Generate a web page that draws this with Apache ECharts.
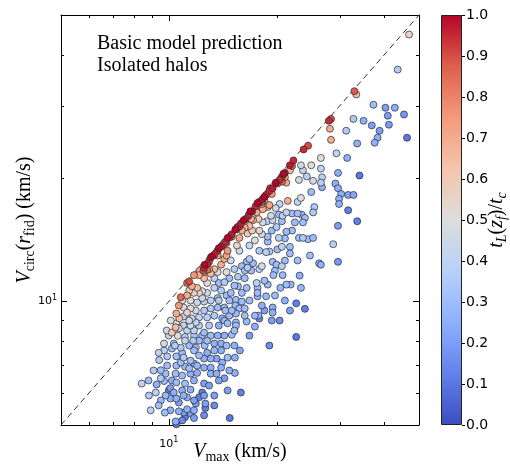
<!DOCTYPE html>
<html><head><meta charset="utf-8">
<script src="https://cdn.jsdelivr.net/npm/echarts@6/dist/echarts.min.js"></script>
<style>html,body{margin:0;padding:0;background:#fff}#c{width:510px;height:464px}</style>
</head><body><div id="c"></div>
<script>
// Each halo: [Vmax (km/s), Vcirc(r_fid) (km/s), tL(zf)/tc]
const upperHalos = [
[46.9,44.8,0.55],[43.6,36.8,0.35],[33.0,32.6,0.88],[33.4,32.0,0.65],[37.3,30.2,0.3],[40.3,29.7,0.2],[42.8,29.7,0.25],[40.9,28.4,0.2],[45.4,28.6,0.18],[32.8,27.9,0.35],[35.0,27.6,0.25],[36.9,26.9,0.2],[41.2,27.0,0.2],[28.0,27.6,0.95],[28.4,27.9,0.9],[28.2,26.4,0.7],[31.3,26.1,0.35],[38.8,26.1,0.2],[38.3,25.1,0.25],[46.3,25.1,0.1],[28.4,24.8,0.7],[33.6,24.3,0.25],[37.6,24.4,0.25],[23.8,23.5,0.95],[24.5,24.0,0.9]
];
const midHalos = [
[22.3,22.1,0.95],[21.8,21.5,0.97],[22.1,21.4,0.85],[26.6,22.4,0.5],[29.4,23.0,0.4],[31.5,22.4,0.25],[23.4,21.5,0.45],[25.0,21.5,0.5],[23.7,20.9,0.4],[26.6,21.1,0.4],[29.7,20.6,0.25],[34.1,20.3,0.1],[24.3,20.2,0.38],[26.8,20.1,0.38],[23.1,19.8,0.45],[25.3,19.7,0.45],[26.6,19.5,0.38],[29.2,19.4,0.25],[26.8,19.0,0.25],[29.7,18.9,0.25],[30.3,18.3,0.25],[31.7,18.2,0.22],[32.8,18.2,0.22],[25.0,18.5,0.3],[23.4,17.9,0.5],[29.9,17.8,0.25],[29.9,17.3,0.25],[22.9,17.5,0.4],[31.7,16.7,0.12],[33.6,15.7,0.12],[25.5,17.0,0.35],[25.3,16.5,0.35],[22.1,16.4,0.3],[22.9,16.4,0.3],[23.5,16.3,0.28],[24.0,16.0,0.3],[22.5,15.6,0.3],[23.7,15.6,0.3],[29.7,15.3,0.2],[22.1,14.9,0.3],[23.1,14.3,0.3],[23.7,14.3,0.35],[24.5,14.2,0.3],[25.3,14.3,0.3],
[28.8,13.8,0.38],[21.8,13.6,0.3],[21.8,13.1,0.3],[22.9,12.6,0.3],[26.3,12.4,0.25],[26.6,12.3,0.25],[29.7,12.5,0.18],[21.9,11.0,0.28],[23.4,10.8,0.28],[22.7,9.9,0.12],[24.0,9.6,0.12],
[22.7,8.2,0.1],[15.8,7.6,0.22],[15.3,7.3,0.25],[15.3,6.7,0.25],[15.9,6.0,0.12],[14.8,5.2,0.1],
[23.2,11.57,0.25],[24.8,12.95,0.3],[21.1,10.06,0.25],[18.5,9.51,0.2],[20.4,8.99,0.15],[16.8,8.26,0.2],[19.1,7.81,0.15]
];
const coreHalos = [
[15.5,13.7,0.55],[18.9,14.0,0.3],[20.7,13.6,0.38],[18.7,13.2,0.38],[19.1,13.25,0.35],[20.1,13.4,0.3],[19.5,12.5,0.3],[20.0,12.3,0.3],[20.7,12.2,0.38],[16.5,12.5,0.3],[16.8,12.7,0.35],[17.2,12.4,0.3],[18.2,12.2,0.45],[16.6,12.1,0.35],[16.0,12.2,0.3],[16.3,11.9,0.3],[17.0,11.9,0.3],[17.9,12.0,0.38],[19.8,11.9,0.3],[19.6,11.6,0.3],[20.8,11.6,0.28],[15.6,11.5,0.35],[16.3,11.4,0.3],[17.6,11.1,0.38],[18.9,11.0,0.28],[21.3,11.0,0.3],[15.6,10.9,0.3],[16.5,10.8,0.3],[17.7,10.8,0.3],[20.5,10.8,0.28],[17.7,10.5,0.3],[16.0,10.5,0.3],[17.7,10.3,0.28],[18.7,10.3,0.28],[19.8,10.35,0.3],[15.4,10.1,0.3],[16.0,10.0,0.3],[15.35,9.78,0.3],[15.75,9.62,0.3],[16.3,9.62,0.3],[19.5,9.67,0.25],[19.5,9.4,0.25],[15.4,9.35,0.3],[16.3,9.24,0.3],[17.8,9.24,0.25],[17.9,9.09,0.15],[15.4,8.89,0.3],[16.5,8.94,0.28],[17.4,8.69,0.25],[15.4,8.74,0.3],
[15.25,12.0,0.35],[14.9,12.6,0.45],[15.75,13.3,0.45],[16.8,13.7,0.4],[17.9,13.3,0.35],[17.4,14.1,0.5]
];
const bandHalos = [
[21.1,20.6,0.97],[20.7,20.1,0.95],[20.4,19.8,0.95],[20.1,19.4,0.9],[20.7,19.6,0.85],[19.5,18.9,0.97],[19.1,18.6,0.95],[18.7,18.2,0.95],[18.3,17.8,0.97],[17.9,17.5,0.95],[17.5,17.1,0.95],[17.1,16.6,0.97],[16.7,16.2,0.95],[16.4,15.9,0.95],[15.9,15.5,0.97],[15.55,15.2,0.95],[15.0,14.6,0.97],[14.8,14.35,0.95],[14.4,14.0,0.95],[14.0,13.6,0.97],[13.7,13.3,0.95],[13.4,13.0,0.95],[13.1,12.8,0.97],[12.96,12.5,0.9],[12.8,12.35,0.95],[12.55,12.1,0.95],[12.5,11.9,0.9],[12.8,11.95,0.85],[11.4,11.2,0.9],[11.25,11.1,0.85],
[20.9,20.5,1.0],[19.9,19.5,1.0],[19.2,18.9,0.92],[18.5,18.0,1.0],[17.7,17.4,1.0],[16.9,16.6,1.0],[16.2,15.8,1.0],[15.35,15.0,1.0],[14.6,14.3,1.0],[13.8,13.5,1.0],[13.2,12.9,1.0],[12.6,12.3,1.0],[14.2,13.75,0.9],[15.75,15.25,0.9],[18.2,17.5,0.88]
];
const salmonHalos = [
[19.4,18.3,0.75],[18.5,17.6,0.7],[18.9,17.0,0.7],[19.1,17.2,0.72],[18.2,17.3,0.75],[17.7,17.0,0.65],[18.3,16.8,0.7],[17.6,16.5,0.7],[17.0,15.9,0.7],[17.2,15.8,0.65],[17.8,15.9,0.6],[16.8,15.3,0.65],[16.3,15.15,0.7],[16.0,14.9,0.7],[15.45,15.0,0.75],[16.6,14.65,0.6],[17.1,14.9,0.6],[17.9,14.9,0.55],[15.0,14.4,0.7],[15.75,14.3,0.7],[14.5,13.9,0.8],[21.5,17.6,0.7],[21.3,19.5,0.7],[21.1,20.1,0.72],[21.8,20.9,0.65],
[12.2,11.9,0.7],[12.55,11.8,0.7],[12.96,12.0,0.7],[13.4,12.0,0.65],[14.0,12.3,0.7],[14.3,12.7,0.7],[13.7,12.95,0.75],[14.6,13.3,0.75],[14.5,12.95,0.72],[11.76,11.6,0.75],[12.15,11.6,0.7],[12.55,11.4,0.65],[13.1,11.7,0.65],[11.6,10.9,0.7],[12.0,10.8,0.65],[11.25,10.35,0.7],[10.8,10.25,0.85],[10.67,9.78,0.75],[10.5,9.35,0.7],[10.7,9.1,0.65],[10.45,8.65,0.65],[10.2,8.4,0.6],[10.6,8.25,0.5],
[10.9,10.06,0.55],[11.4,10.64,0.6],[12.15,10.5,0.55]
];
const grayHalos = [
[20.4,17.3,0.4],[19.9,16.9,0.45],[19.3,16.2,0.45],[18.8,15.7,0.4],[18.3,15.6,0.45],[19.5,15.8,0.4],[20.8,16.2,0.38],[20.3,16.3,0.3],[21.3,16.5,0.4],[20.7,15.7,0.3],[20.0,15.2,0.35],[19.4,14.9,0.3],[21.3,14.8,0.3],[18.9,14.4,0.3],[20.3,14.3,0.38],[21.1,14.25,0.3],[18.2,14.6,0.45],
[12.4,11.8,0.5],[13.7,11.8,0.5],[14.5,11.8,0.5],[12.8,11.1,0.5],[13.4,10.8,0.4],[13.8,11.1,0.3],[14.3,11.15,0.35],[14.76,11.4,0.3],[12.4,10.6,0.5],[12.8,10.5,0.45],[11.76,10.5,0.55],[11.5,10.06,0.5],[12.0,9.95,0.45],[12.4,10.2,0.45],[13.1,10.06,0.38],[13.7,10.2,0.3],[14.5,10.35,0.3],[14.9,10.5,0.3],[11.0,9.67,0.5],[11.5,9.62,0.5],[11.25,9.4,0.55],[11.9,9.51,0.45],[12.55,9.51,0.35],[13.1,9.62,0.35],[13.7,9.67,0.3],[14.3,9.67,0.3],[11.0,9.2,0.4],[11.6,9.1,0.45],[12.15,9.15,0.4],[12.8,9.15,0.38],[13.4,9.24,0.35],[14.1,9.1,0.25],[14.76,9.24,0.3],[10.5,8.85,0.45],[11.0,8.74,0.4],[11.5,8.74,0.45],[12.15,8.74,0.38],[12.96,8.74,0.35],[13.8,8.74,0.25],[14.6,8.85,0.3],
[14.0,10.64,0.35],[15.25,10.94,0.3],[14.76,10.06,0.3],[14.3,8.99,0.28],[11.76,8.5,0.4],[10.67,8.6,0.45],[13.4,11.4,0.4]
];
const lowHalos = [
[11.1,8.2,0.38],[9.7,7.9,0.45],[11.76,8.26,0.35],[12.4,8.26,0.3],[13.1,8.26,0.3],[14.3,8.26,0.25],[15.0,8.3,0.3],[9.7,7.6,0.38],[10.2,7.68,0.3],[10.8,7.72,0.35],[11.4,7.81,0.3],[11.9,7.72,0.3],[12.6,7.81,0.3],[13.4,7.9,0.25],[14.0,7.9,0.25],[9.9,7.35,0.35],[10.5,7.35,0.3],[11.0,7.3,0.35],[11.5,7.18,0.3],[13.6,7.26,0.22],[14.1,7.1,0.25],[12.55,7.26,0.25],[14.6,7.3,0.3],[9.9,6.98,0.3],[10.5,6.98,0.3],[11.1,6.94,0.3],[11.76,7.06,0.25],[12.55,6.9,0.25],[13.1,6.9,0.25],[14.0,6.9,0.25],[9.8,6.67,0.3],[10.45,6.67,0.3],[10.9,6.6,0.3],[11.5,6.67,0.25],[13.1,6.67,0.25],[10.2,6.42,0.25],[10.5,6.35,0.3],[11.1,6.31,0.3],[12.55,6.31,0.2],[9.25,6.28,0.25],[8.4,6.31,0.4],[9.2,6.0,0.38],[9.5,6.5,0.35],[10.0,6.07,0.12],[10.33,6.0,0.25],[10.9,6.07,0.25],[11.5,6.1,0.25],[12.4,6.0,0.12],[10.1,5.8,0.25],[10.5,5.8,0.25],[11.25,5.84,0.25],[12.15,5.84,0.12],[10.67,5.67,0.2],[11.9,5.64,0.2],[12.65,5.64,0.2],[8.9,5.43,0.38],[10.1,5.43,0.25],[10.67,5.4,0.25],[11.25,5.46,0.25],[11.5,5.34,0.2],[12.65,5.5,0.12],[11.1,5.22,0.12],[10.45,5.1,0.25],[10.5,5.02,0.1],
[9.4,7.2,0.35],[9.5,6.8,0.3],[9.7,6.4,0.3],[8.8,5.9,0.35],[9.5,5.74,0.28],[9.75,5.36,0.3],[11.0,5.36,0.2],[11.76,5.43,0.25],[13.4,5.9,0.2],[13.8,6.42,0.22],[14.6,6.07,0.2],[14.76,6.79,0.25],[12.15,7.39,0.3],[10.9,7.5,0.3],[10.33,7.9,0.35],[12.8,7.5,0.25],[11.76,7.6,0.3],[10.0,8.26,0.4],[11.25,8.5,0.4],[12.55,8.4,0.3],[13.7,8.26,0.25],[14.5,7.81,0.3],[15.25,7.81,0.25],[13.4,7.6,0.28],[10.8,7.1,0.3],[10.1,6.15,0.2],[11.76,6.42,0.25],[12.96,6.24,0.2],[12.0,6.7,0.25]
];
const fillHalos = [
[9.87,8.5,0.45],[10.13,8.99,0.5],[10.4,7.81,0.35],[11.1,8.03,0.4],[11.7,8.03,0.35],[12.15,8.03,0.3],[12.8,8.03,0.3],[14.0,7.6,0.25],[13.1,7.26,0.25],[11.4,6.87,0.3],[12.0,6.98,0.28],[13.6,6.67,0.25],[14.3,6.5,0.2],[9.37,7.5,0.4],[9.07,6.79,0.35],[8.78,6.42,0.3],[9.37,5.58,0.3],[11.76,5.74,0.2],[11.0,5.9,0.25],[12.55,5.9,0.2],[13.4,5.58,0.15],[9.8,5.9,0.28],[10.9,5.13,0.15],[11.76,5.2,0.2],[12.55,5.28,0.15],
[13.8,10.06,0.35],[14.4,9.51,0.3],[15.25,8.5,0.3],[11.4,8.99,0.45],[11.9,8.89,0.4],[12.55,10.0,0.4],[15.0,9.51,0.3],
[18.2,9.78,0.25],[19.4,8.99,0.2],[16.8,10.06,0.3],[17.4,9.24,0.28],[21.1,12.59,0.3],[18.5,11.25,0.3],[21.8,9.51,0.2]
];

const axisRange = [5, 50];
const majorTicks = [10];
const xMinorTicks = [6, 7, 8, 9, 20, 30, 40];
const yMinorTicks = [6, 7, 8, 9, 20, 30, 40];
const diagonal = [5, 50];
const colorRange = [0, 1];
const colorStep = 0.1;
const cmapStops = [0, 0.125, 0.25, 0.375, 0.5, 0.625, 0.75, 0.875, 1];
const cmapColors = ['#3b4cc0','#6282ea','#8db0fe','#b8d0f9','#dddddd','#f5c4ac','#f49a7b','#de604d','#b40426'];
const titleLines = ['Basic model prediction', 'Isolated halos'];

const allHalos = [].concat(upperHalos, midHalos, coreHalos, bandHalos, salmonHalos, grayHalos, lowHalos, fillHalos)
  .slice().sort((a, b) => a[2] - b[2]);

const serif = 'Liberation Serif';
const richMath = {
  i: {fontFamily: serif, fontStyle: 'italic', fontSize: 20, color: '#000'},
  n: {fontFamily: serif, fontSize: 20, color: '#000'},
  s: {fontFamily: serif, fontSize: 14, color: '#000', padding: [10, 0, 0, 0]},
  si: {fontFamily: serif, fontStyle: 'italic', fontSize: 14, color: '#000', padding: [10, 0, 0, 0]}
};
const richTick = {
  b: {fontFamily: 'DejaVu Sans', fontSize: 11, color: '#000'},
  p: {fontFamily: 'DejaVu Sans', fontSize: 8, color: '#000', padding: [0, 0, 8, 0]}
};
function tickFmt(v) {
  for (const m of majorTicks) { if (Math.abs(v - m) < 1e-6 * m) return '{b|10}{p|' + Math.round(Math.log10(m)) + '}'; }
  return '';
}
function logAxis(position, showLabel, extra) {
  return Object.assign({
    type: 'log', logBase: 10, min: axisRange[0], max: axisRange[1], gridIndex: 0, position: position,
    axisLine: {show: true, lineStyle: {color: '#000', width: 1}},
    axisTick: {show: true, inside: true, length: 6, lineStyle: {color: '#000', width: 1}},
    axisLabel: {show: showLabel, formatter: tickFmt, rich: richTick, margin: position === 'bottom' ? 11 : 4,
      showMinLabel: false, showMaxLabel: false},
    splitLine: {show: false}, minorTick: {show: false}, nameMoveOverlap: false
  }, extra || {});
}

function minorTickSeries(values, isX) {
  return {
    type: 'custom', xAxisIndex: 0, yAxisIndex: 0, silent: true, clip: false, z: 6,
    data: values.map(v => isX ? [v, majorTicks[0]] : [majorTicks[0], v]),
    renderItem: function (params, api) {
      const cs = params.coordSys;
      const L = 3;
      const st = {stroke: '#000', lineWidth: 1};
      if (isX) {
        const x = Math.round(api.coord([api.value(0), majorTicks[0]])[0]) + 0.5;
        return {type: 'group', children: [
          {type: 'line', shape: {x1: x, y1: cs.y + cs.height, x2: x, y2: cs.y + cs.height - L}, style: st},
          {type: 'line', shape: {x1: x, y1: cs.y, x2: x, y2: cs.y + L}, style: st}
        ]};
      } else {
        const y = Math.round(api.coord([majorTicks[0], api.value(1)])[1]) + 0.5;
        return {type: 'group', children: [
          {type: 'line', shape: {x1: cs.x, y1: y, x2: cs.x + L, y2: y}, style: st},
          {type: 'line', shape: {x1: cs.x + cs.width, y1: y, x2: cs.x + cs.width - L, y2: y}, style: st}
        ]};
      }
    }
  };
}

const gradStops = cmapStops.map((s, i) => ({offset: 1 - s, color: cmapColors[i]})).reverse();

const chart = echarts.init(document.getElementById('c'), null, {renderer: 'canvas'});
chart.setOption({
  animation: false,
  backgroundColor: '#fff',
  grid: [
    {left: 61, top: 15, width: 358, height: 410, show: false, containLabel: false, outerBoundsMode: 'none'},
    {left: 441, top: 15, width: 21, height: 410, show: false, containLabel: false, outerBoundsMode: 'none'}
  ],
  xAxis: [
    logAxis('bottom', true, {name: '{i|V}{s|max}{n| (km/s)}', nameLocation: 'middle', nameGap: 15,
      nameTextStyle: {rich: richMath}}),
    logAxis('top', false),
    {type: 'category', gridIndex: 1, data: [''], show: false}
  ],
  yAxis: [
    logAxis('left', true, {name: '{i|V}{s|circ}{n|(}{i|r}{s|fid}{n|) (km/s)}', nameLocation: 'middle', nameGap: 24,
      nameTextStyle: {rich: richMath}}),
    logAxis('right', false),
    {type: 'value', gridIndex: 1, position: 'right', min: colorRange[0], max: colorRange[1], interval: colorStep,
      axisLine: {show: false},
      axisTick: {show: true, inside: false, length: 3, lineStyle: {color: '#000'}},
      axisLabel: {formatter: v => v.toFixed(1), fontFamily: 'DejaVu Sans', fontSize: 14, color: '#000', margin: 4},
      splitLine: {show: false}, nameMoveOverlap: false,
      name: '{i|t}{si|L}{n|(}{i|z}{si|f}{n|)/}{i|t}{si|c}', nameLocation: 'middle', nameGap: 23,
      nameTextStyle: {rich: richMath}}
  ],
  visualMap: {type: 'continuous', show: false, min: colorRange[0], max: colorRange[1], dimension: 2,
    seriesIndex: 0, inRange: {color: cmapColors}},
  series: [
    {type: 'scatter', xAxisIndex: 0, yAxisIndex: 0, z: 4, symbolSize: 7, data: allHalos,
      itemStyle: {borderColor: '#2a2a2a', borderWidth: 0.7, opacity: 1}},
    {type: 'line', xAxisIndex: 0, yAxisIndex: 0, z: 3, symbol: 'none', silent: true,
      data: [[diagonal[0], diagonal[0]], [diagonal[1], diagonal[1]]],
      lineStyle: {color: '#333', width: 1, type: [6, 4]}},
    minorTickSeries(xMinorTicks, true),
    minorTickSeries(yMinorTicks, false),
    {type: 'bar', xAxisIndex: 2, yAxisIndex: 2, data: [colorRange[1]], barWidth: '100%', silent: true,
      itemStyle: {color: new echarts.graphic.LinearGradient(0, 0, 0, 1, gradStops), borderColor: '#222', borderWidth: 1}}
  ],
  graphic: [
    {type: 'text', left: 97, top: 33, z: 10, style: {text: titleLines.join('\n'), font: '20px "Liberation Serif"', lineHeight: 22, fill: '#000'}}
  ]
});
</script></body></html>
